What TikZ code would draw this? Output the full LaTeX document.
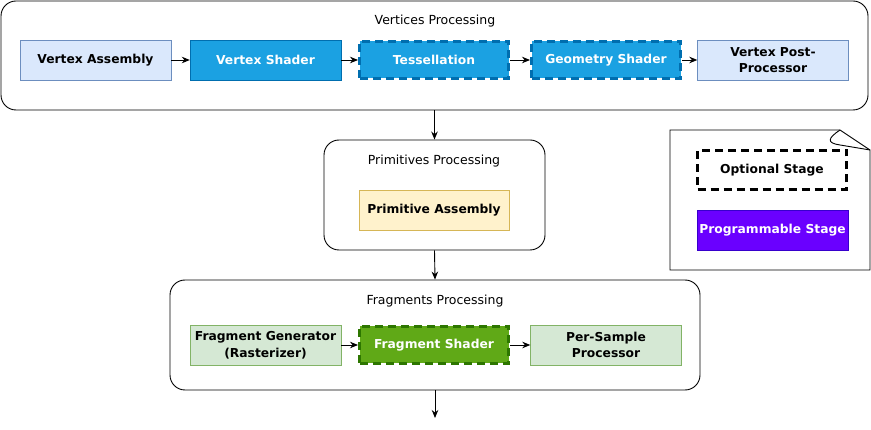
\documentclass[tikz,border=0pt]{standalone}
\usepackage{fontspec}
\setmainfont{DejaVu Sans}
\usetikzlibrary{arrows.meta,positioning}

\definecolor{asmFill}{HTML}{DAE8FC}
\definecolor{asmDraw}{HTML}{6C8EBF}
\definecolor{shdFill}{HTML}{1BA1E2}
\definecolor{shdDraw}{HTML}{006EAF}
\definecolor{primFill}{HTML}{FFF2CC}
\definecolor{primDraw}{HTML}{D6B656}
\definecolor{fragFill}{HTML}{D5E8D4}
\definecolor{fragDraw}{HTML}{82B366}
\definecolor{fshFill}{HTML}{60A917}
\definecolor{fshDraw}{HTML}{2D7600}
\definecolor{progFill}{HTML}{6A00FF}
\definecolor{progDraw}{HTML}{3700CC}

\begin{document}
\begin{tikzpicture}[x=1pt, y=-1pt, >={Stealth[length=8pt,width=6.5pt]},
  group/.style={draw, rounded corners=15pt, line width=0.9pt},
  title/.style={font=\fontsize{12.5}{14}\selectfont},
  stagebox/.style={draw, minimum width=151pt, minimum height=40pt, inner sep=1pt,
    align=center, font=\bfseries\fontsize{12.3}{16.5}\selectfont},
  optional/.style={line width=3pt, dash pattern=on 8pt off 5pt},
  link/.style={->, line width=0.9pt}]

 \useasboundingbox (0,0) rectangle (871,430);

 %groups
 \node[group, minimum width=867pt, minimum height=109pt] (VP) at (434.5,55.5) {};
 \node[group, minimum width=221pt, minimum height=110pt] (PP) at (434.5,195) {};
 \node[group, minimum width=530pt, minimum height=110pt] (FP) at (435,335) {};

 \node[title] (VPt) at (435,21) {Vertices Processing};
 \node[title] (PPt) at (434,161) {Primitives Processing};
 \node[title] (FPt) at (435,301) {Fragments Processing};

 %level 1
 \def\dy{60}
 \node[stagebox, fill=asmFill, draw=asmDraw] (V1) at (95.5,\dy) {Vertex Assembly};
 \node[stagebox, fill=shdFill, draw=shdDraw, text=white] (V2) at (265.5,\dy) {Vertex Shader};
 \node[stagebox, optional, minimum width=149pt, minimum height=37pt, fill=shdFill, draw=shdDraw, text=white] (V3) at (434,\dy) {Tessellation};
 \node[stagebox, optional, minimum width=149pt, minimum height=37pt, fill=shdFill, draw=shdDraw, text=white] (V4) at (606,\dy) {Geometry Shader};
 \node[stagebox, fill=asmFill, draw=asmDraw] (V5) at (773,\dy) {Vertex Post-\\Processor};

 %level 2
 \node[stagebox, minimum width=150pt, fill=primFill, draw=primDraw] (P1) at (434,210) {Primitive Assembly};

 %level 3
 \def\dy{345}
 \node[stagebox, fill=fragFill, draw=fragDraw] (F1) at (265.5,\dy) {Fragment Generator\\(Rasterizer)};
 \node[stagebox, optional, minimum width=149pt, minimum height=37pt, fill=fshFill, draw=fshDraw, text=white] (F2) at (434,\dy) {Fragment Shader};
 \node[stagebox, fill=fragFill, draw=fragDraw] (F3) at (606,\dy) {Per-Sample\\Processor};
 \coordinate (out) at (435,418);

 %arrows
 \foreach \a/\b in {V1/V2, V2/V3, V3/V4, V4/V5, F1/F2, F2/F3}
   \draw[link] (\a) -- (\b);
 \draw[link] (VP.south) -- (PP.north);
 \draw[link] (PP.south) -- (FP.north);
 \draw[link] (FP.south) -- (out);

 %legend
 \draw[line width=0.9pt, fill=white] (670,130) -- (840,130) -- (870,150) -- (870,270) -- (670,270) -- cycle;
 \draw[line width=0.9pt] (840,130) .. controls (828,138) and (826,143) .. (840,145) -- (870,150);
 \node[stagebox, optional, minimum width=149pt, minimum height=39pt, fill=white, draw=black] (L1) at (772,170) {Optional Stage};
 \node[stagebox, fill=progFill, draw=progDraw, text=white] (L2) at (772.5,230) {Programmable Stage};

\end{tikzpicture}
\end{document}
